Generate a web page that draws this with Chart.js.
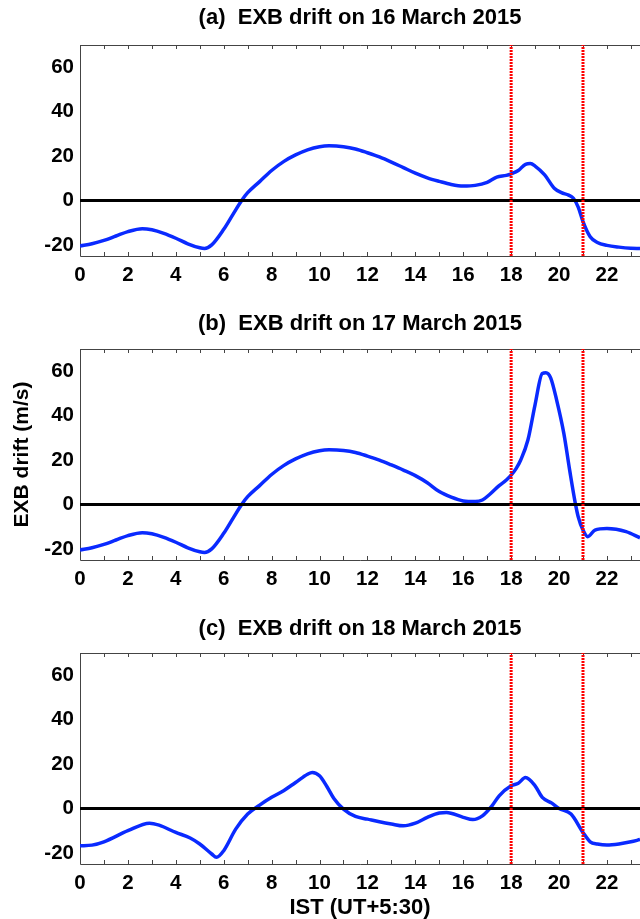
<!DOCTYPE html>
<html>
<head>
<meta charset="utf-8">
<script src="https://cdn.jsdelivr.net/npm/chart.js@4.4.1/dist/chart.umd.min.js"></script>
<style>
html, body { margin: 0; padding: 0; background: #fff; overflow: hidden; }
.panel { position: absolute; left: 0; width: 640px; }
</style>
</head>
<body>
<div class="panel" style="top:0px;height:294px"><canvas id="chartA"></canvas></div>
<div class="panel" style="top:300px;height:298px"><canvas id="chartB"></canvas></div>
<div class="panel" style="top:606px;height:313px"><canvas id="chartC"></canvas></div>
<script>
// axis ticks (hours, IST) and drift ticks (m/s)
var hourTicks = [0,1,2,3,4,5,6,7,8,9,10,11,12,13,14,15,16,17,18,19,20,21,22,23];
var driftTicks = [-20, 0, 20, 40, 60];
var hourMin = 0, hourMax = 23.38;
var driftMin = -25, driftMax = 70;
// the two marked times (red dotted lines)
var markHours = [18, 21];

// 16 March 2015
var hoursA = [0,0.5,1,1.5,2,2.6,3,3.5,4,4.5,5,5.2,5.5,6,6.4,6.75,7,7.5,8,8.5,9,9.5,10,10.4,11,11.5,12,12.5,13,13.5,14,14.5,15,15.5,16,16.5,17,17.4,17.8,18,18.3,18.6,18.8,19,19.4,19.8,20.1,20.4,20.6,20.8,21,21.3,21.6,22,22.5,23,23.38];
var driftA = [-20.5,-19.5,-18,-16,-14,-12.7,-13.2,-14.8,-17,-19.5,-21.3,-21.6,-20,-13,-6,0,3.5,8.5,13.5,17.5,20.5,22.8,24.2,24.6,24.2,23.2,21.5,19.6,17.3,14.8,12.3,10.2,8.6,7.2,6.5,6.8,8.2,10.5,11.3,12,13.5,16.3,16.6,15.5,11.5,5.5,3.5,2.4,1,-3,-9.5,-16.3,-18.9,-20.2,-21,-21.5,-21.6];

// 17 March 2015
var hoursB = [0,0.5,1,1.5,2,2.6,3,3.5,4,4.5,5,5.2,5.5,6,6.4,6.75,7,7.5,8,8.5,9,9.5,10,10.4,11,11.5,12,12.5,13,13.5,14,14.5,15,15.5,16,16.5,16.8,17.1,17.5,17.8,18,18.2,18.4,18.7,19,19.3,19.45,19.65,19.9,20.2,20.45,20.68,20.8,21,21.2,21.5,22,22.8,23.38];
var driftB = [-20.5,-19.5,-18,-16,-14,-12.7,-13.2,-14.8,-17,-19.5,-21.3,-21.6,-20,-13,-6,0,3.5,8.5,13.5,17.5,20.5,22.8,24.2,24.6,24.3,23.4,21.8,20,17.8,15.5,13,9.8,5.8,3.3,1.6,1.3,2,4.5,8.5,11,13.2,16,20,29,45,59,59.3,57,47,32,15,0.5,-5.5,-11.5,-14.5,-11.5,-10.8,-12.2,-15];

// 18 March 2015
var hoursC = [0,0.5,1,2,2.9,3.3,4,4.6,5,5.5,5.7,6,6.5,7,7.5,8,8.5,9,9.5,9.7,10,10.3,10.6,11,11.5,12,12.5,13,13.5,14,14.5,15,15.3,16,16.4,16.8,17.2,17.5,18,18.3,18.6,19,19.3,19.7,20,20.5,21,21.3,21.6,22,22.5,23,23.38];
var driftC = [-16.8,-16.5,-15,-10,-6.6,-7.5,-10.8,-13.3,-16,-20.5,-22,-19,-9.3,-2.5,1.5,5,8,11.7,15.4,16.2,14.7,10,4.5,-0.3,-3.6,-4.8,-6,-7,-7.8,-6.6,-4,-2,-1.8,-4,-5,-3.3,1.2,5.7,10.2,11.4,13.9,10.2,5,2.4,0,-2.5,-10.8,-15,-16,-16.5,-16,-15,-14];

var boldFont = "'Liberation Sans', Arial, sans-serif";

// MATLAB style box: left, top and bottom lines with inward ticks
var framePlugin = {
	id: 'frame',
	beforeDatasetsDraw: function(chart) {
		var ctx = chart.ctx;
		var area = chart.chartArea;
		var xs = chart.scales.x;
		ctx.save();
		ctx.strokeStyle = '#444';
		ctx.lineWidth = 1;
		ctx.beginPath();
		ctx.moveTo(area.right + 1, area.top + 0.5);
		ctx.lineTo(area.left + 0.5, area.top + 0.5);
		ctx.lineTo(area.left + 0.5, area.bottom + 0.5);
		ctx.lineTo(area.right + 1, area.bottom + 0.5);
		xs.ticks.forEach(function(t) {
			var px = Math.round(xs.getPixelForValue(t.value)) + 0.5;
			ctx.moveTo(px, area.bottom);
			ctx.lineTo(px, area.bottom - 4);
			ctx.moveTo(px, area.top);
			ctx.lineTo(px, area.top + 4);
		});
		ctx.stroke();
		ctx.restore();
	}
};

function makePanel(canvID, titleText, hours, drift, titlePad, yTitle, xTitle)
{
	var series = hours.map(function(h, i) { return {x: h, y: drift[i]}; });
	var marks = markHours.map(function(h) {
		return {
			data: [{x: h, y: driftMin}, {x: h, y: driftMax}],
			borderColor: '#ff0000',
			borderWidth: 3,
			borderDash: [2, 1],
			pointRadius: 0,
			fill: false
		};
	});

	new Chart(document.getElementById(canvID),
	{
		type: 'line',
		data:
		{
			datasets: marks.concat([
			{
				data: [{x: hourMin, y: 0}, {x: hourMax, y: 0}],
				borderColor: '#000',
				borderWidth: 3,
				pointRadius: 0,
				fill: false
			},
			{
				data: series,
				borderColor: '#0a2aff',
				borderWidth: 3.5,
				pointRadius: 0,
				cubicInterpolationMode: 'monotone',
				fill: false
			}])
		},
		plugins: [framePlugin],
		options:
		{
			responsive: true,
			maintainAspectRatio: false,
			animation: false,
			events: [],
			layout: {padding: 0},
			plugins:
			{
				legend: {display: false},
				tooltip: {enabled: false},
				title:
				{
					display: true,
					text: titleText,
					fullSize: false,
					color: '#000',
					font: {family: boldFont, size: 22, weight: 'bold'},
					padding: titlePad
				}
			},
			scales:
			{
				x:
				{
					type: 'linear',
					min: hourMin,
					max: hourMax,
					afterBuildTicks: function(s) { s.ticks = hourTicks.map(function(v) { return {value: v}; }); },
					afterFit: function(s) { s.height = xTitle ? 55 : 38; },
					grid: {display: false, drawTicks: false},
					border: {display: false},
					ticks:
					{
						autoSkip: false,
						maxRotation: 0,
						padding: 7,
						color: '#000',
						font: {family: boldFont, size: 20.5, weight: 'bold', lineHeight: 1.17},
						callback: function(v) { return v % 2 === 0 ? String(v) : ''; }
					},
					title:
					{
						display: xTitle,
						text: 'IST (UT+5:30)',
						color: '#000',
						font: {family: boldFont, size: 22, weight: 'bold', lineHeight: 1},
						padding: {top: 0, bottom: 0}
					}
				},
				y:
				{
					min: driftMin,
					max: driftMax,
					afterBuildTicks: function(s) { s.ticks = driftTicks.map(function(v) { return {value: v}; }); },
					afterFit: function(s) { s.width = 80; },
					grid: {display: false, drawTicks: false},
					border: {display: false},
					ticks:
					{
						padding: 6,
						color: '#000',
						font: {family: boldFont, size: 20.5, weight: 'bold'}
					},
					title:
					{
						display: yTitle,
						text: 'EXB drift (m/s)',
						color: '#000',
						font: {family: boldFont, size: 21, weight: 'bold'},
						padding: {top: 10, bottom: 0}
					}
				}
			}
		}
	});
}

makePanel('chartA', '(a)  EXB drift on 16 March 2015', hoursA, driftA, {top: 5, bottom: 13.6}, false, false);
makePanel('chartB', '(b)  EXB drift on 17 March 2015', hoursB, driftB, {top: 10.8, bottom: 11.8}, true, false);
makePanel('chartC', '(c)  EXB drift on 18 March 2015', hoursC, driftC, {top: 9.8, bottom: 10.8}, false, true);
</script>
</body>
</html>
